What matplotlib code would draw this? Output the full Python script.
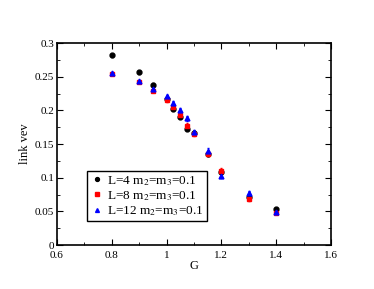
import numpy as np
import matplotlib.pyplot as plt
from matplotlib.lines import Line2D

plt.rcParams['font.family'] = ['Liberation Serif', 'DejaVu Serif']
plt.rcParams['mathtext.fontset'] = 'stix'

g4 = [0.8, 0.9, 0.95, 1.0, 1.025, 1.05, 1.075, 1.1, 1.15, 1.2, 1.3, 1.4]
v4 = [0.282, 0.2565, 0.238, 0.217, 0.202, 0.19, 0.173, 0.166, 0.135, 0.108, 0.072, 0.0535]
e4 = [0.002, 0.002, 0.002, 0.002, 0.002, 0.002, 0.002, 0.002, 0.002, 0.002, 0.002, 0.002]

g8 = [0.8, 0.9, 0.95, 1.0, 1.025, 1.05, 1.075, 1.1, 1.15, 1.2, 1.3, 1.4]
v8 = [0.254, 0.242, 0.229, 0.215, 0.205, 0.1935, 0.177, 0.1645, 0.1347, 0.110, 0.068, 0.048]
e8 = [0.002, 0.002, 0.002, 0.002, 0.002, 0.003, 0.004, 0.002, 0.003, 0.004, 0.003, 0.002]

g12 = [0.8, 0.9, 0.95, 1.0, 1.025, 1.05, 1.075, 1.1, 1.15, 1.2, 1.3, 1.4]
v12 = [0.255, 0.243, 0.232, 0.221, 0.211, 0.2005, 0.188, 0.168, 0.1397, 0.103, 0.0768, 0.0495]
e12 = [0.002, 0.002, 0.002, 0.002, 0.003, 0.003, 0.004, 0.003, 0.004, 0.004, 0.003, 0.002]

labels = [r'L=4 m$_2$=m$_3$=0.1', r'L=8 m$_2$=m$_3$=0.1', r'L=12 m$_2$=m$_3$=0.1']
xticks = [0.6, 0.8, 1.0, 1.2, 1.4, 1.6]
xticklabels = ['0.6', '0.8', '1', '1.2', '1.4', '1.6']
yticks = [0, 0.05, 0.1, 0.15, 0.2, 0.25, 0.3]
yticklabels = ['0', '0.05', '0.1', '0.15', '0.2', '0.25', '0.3']

fig = plt.figure(figsize=(3.74, 2.89), dpi=100)
ax = fig.add_axes([0.152, 0.152, 0.733, 0.699])

handles = []
for g, v, e, m, c, lab in [(g4, v4, e4, 'o', 'black', labels[0]),
                           (g8, v8, e8, 's', 'red', labels[1]),
                           (g12, v12, e12, '^', 'blue', labels[2])]:
    ax.errorbar(g, v, yerr=e, fmt=m, color=c, ms=3.5, elinewidth=0.7, capsize=1)
    handles.append(Line2D([], [], marker=m, color=c, linestyle='none', ms=2.8, label=lab))

ax.set_xlim(0.6, 1.6)
ax.set_ylim(0, 0.3)
ax.set_xticks(xticks)
ax.set_xticklabels(xticklabels)
ax.set_xticks([0.7, 0.9, 1.1, 1.3, 1.5], minor=True)
ax.set_yticks(yticks)
ax.set_yticklabels(yticklabels)
ax.set_yticks([0.025, 0.075, 0.125, 0.175, 0.225, 0.275], minor=True)
ax.tick_params(which='both', direction='in', top=True, right=True, labelsize=8)
ax.tick_params(axis='y', pad=2)
ax.tick_params(axis='x', pad=4)
ax.tick_params(which='major', length=4)
ax.tick_params(which='minor', length=2)
for s in ax.spines.values():
    s.set_linewidth(1.2)

ax.set_xlabel('G', fontsize=9, labelpad=0)
ax.set_ylabel('link vev', fontsize=9, labelpad=3)

leg = ax.legend(handles=handles, loc='lower left', bbox_to_anchor=(0.1, 0.105), fontsize=9.5,
                fancybox=False, framealpha=1, edgecolor='black', handletextpad=0.3,
                borderpad=0.25, labelspacing=0.1, handlelength=1.0, borderaxespad=0.2)
leg.get_frame().set_linewidth(1.0)

plt.savefig('out.png', dpi=100)
